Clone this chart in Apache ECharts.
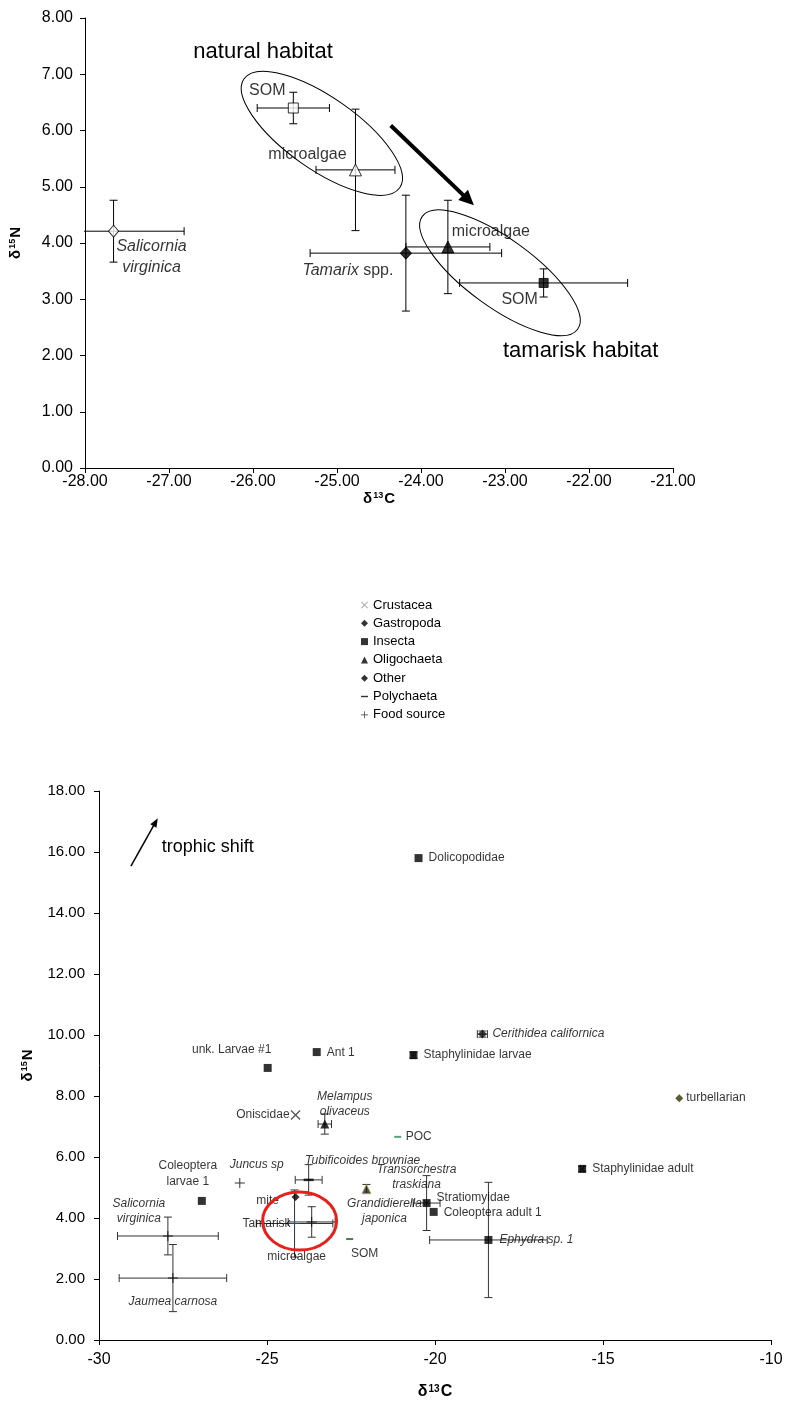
<!DOCTYPE html>
<html><head><meta charset="utf-8">
<script src="https://cdn.jsdelivr.net/npm/echarts@6/dist/echarts.min.js"></script>
<style>html,body{margin:0;padding:0;background:#fff}#c{width:789px;height:1410px}</style>
</head><body><div id="c"></div>
<script>
// ---------------- Top chart data (mean ± SD) ----------------
const topNames = ['Salicornia virginica','SOM','microalgae','Tamarix spp.','microalgae','SOM'];
const topC     = [-27.66, -25.52, -24.78, -24.18, -23.68, -22.54];
const topN     = [4.21, 6.40, 5.30, 3.82, 3.93, 3.29];
const topCerr  = [0.84, 0.43, 0.47, 1.14, 0.50, 1.00];
const topNerr  = [0.55, 0.28, 1.08, 1.03, 0.83, 0.25];
const topXRange = [-28, -21, 1];
const topYRange = [0, 8, 1];

// ---------------- Bottom chart data (mean ± SD) ----------------
const groups = ['Crustacea','Gastropoda','Insecta','Oligochaeta','Other','Polychaeta','Food source'];
const botNames = ['Oniscidae','Transorchestra traskiana','Cerithidea californica','Dolicopodidae','Staphylinidae larvae','Ant 1','unk. Larvae #1','Staphylinidae adult','Stratiomyidae','Coleoptera adult 1','Ephydra sp. 1','Coleoptera larvae 1','Melampus olivaceus','Grandidierella japonica','turbellarian','mite','POC','SOM','Tubificoides browniae','Juncus sp','Salicornia virginica','Jaumea carnosa','Tamarisk','microalgae'];
const botGroup = ['Crustacea','Crustacea','Gastropoda','Insecta','Insecta','Insecta','Insecta','Insecta','Insecta','Insecta','Insecta','Insecta','Oligochaeta','Oligochaeta','Other','Other','Polychaeta','Polychaeta','Polychaeta','Food source','Food source','Food source','Food source','Food source'];
const botC    = [-24.15, -20.25, -18.59, -20.49, -20.64, -23.52, -24.98, -15.62, -20.25, -20.04, -18.41, -26.94, -23.28, -22.04, -12.73, -24.15, -21.11, -22.54, -23.76, -25.81, -27.95, -27.80, -24.18, -23.67];
const botN    = [7.38, 4.49, 10.03, 15.80, 9.34, 9.44, 8.92, 5.61, 4.49, 4.20, 3.28, 4.56, 7.08, 4.95, 7.93, 4.69, 6.66, 3.31, 5.25, 5.15, 3.41, 2.03, 3.82, 3.87];
const botCerr = [0, 0.40, 0.15, 0, 0.05, 0, 0, 0.05, 0, 0, 1.75, 0, 0.20, 0, 0, 0, 0, 0, 0.40, 0, 1.50, 1.60, 1.14, 0.70];
const botNerr = [0, 0.90, 0.10, 0, 0.10, 0, 0, 0.08, 0, 0, 1.89, 0, 0.33, 0.15, 0, 0, 0, 0, 0.50, 0, 0.62, 1.10, 1.10, 0.50];
const botXRange = [-30, -10, 5];
const botYRange = [0, 18, 2];

// ---------------- annotation anchors (data coordinates) ----------------
const naturalEllipse  = [-25.18, 5.95];
const tamariskEllipse = [-23.06, 3.47];
const shiftArrow      = [[-24.36, 6.09], [-23.37, 4.67]];
const naturalText     = [-25.88, 7.39];
const tamariskText    = [-22.10, 2.08];
const trophicArrow    = [[-29.05, 15.54], [-28.25, 17.11]];
const trophicText     = [-28.13, 16.16];
const redEllipse      = [-24.03, 3.90];

// ---------------- styling ----------------
const FONT = "'Liberation Sans', Arial, sans-serif";
const italicSet = new Set(['Transorchestra traskiana','Cerithidea californica','Ephydra sp. 1','Melampus olivaceus','Grandidierella japonica','Tubificoides browniae','Juncus sp','Salicornia virginica','Jaumea carnosa']);
const breakText = {
  'Salicornia virginica':'Salicornia\nvirginica','Melampus olivaceus':'Melampus\nolivaceus',
  'Transorchestra traskiana':'Transorchestra\ntraskiana','Grandidierella japonica':'Grandidierella\njaponica',
  'Coleoptera larvae 1':'Coleoptera\nlarvae 1'
};
// label layout [dx, dy, align]
const topLab = [[38,26,'center'],[-26,-17,'center'],[-48,-15,'center'],[-58,17,'center'],[43,-15,'center'],[-24,17,'center']];
const botLab = {
  'Oniscidae':[-6,0,'right'],'Transorchestra traskiana':[-10,-26,'center'],'Cerithidea californica':[10,0,'left'],
  'Dolicopodidae':[10,0,'left'],'Staphylinidae larvae':[10,0,'left'],'Ant 1':[10,1,'left'],
  'unk. Larvae #1':[-36,-18,'center'],'Staphylinidae adult':[10,0,'left'],'Stratiomyidae':[10,-5,'left'],
  'Coleoptera adult 1':[10,1,'left'],'Ephydra sp. 1':[11,0,'left'],'Coleoptera larvae 1':[-14,-27,'center'],
  'Melampus olivaceus':[20,-20,'center'],'Grandidierella japonica':[18,22,'center'],'turbellarian':[7,0,'left'],
  'mite':[-28,4,'center'],'POC':[8,0,'left'],'SOM':[15,15,'center'],'Tubificoides browniae':[54,-19,'center'],
  'Juncus sp':[17,-18,'center'],'Salicornia virginica':[-29,-25,'center'],'Jaumea carnosa':[0,24,'center'],
  'Tamarisk':[-28,0,'center'],'microalgae':[-15,35,'center']
};
const X_PATH = 'path://M1,0L5,4L9,0L10,1L6,5L10,9L9,10L5,6L1,10L0,9L4,5L0,1Z';
const PLUS_PATH = 'path://M4.5,0L5.5,0L5.5,4.5L10,4.5L10,5.5L5.5,5.5L5.5,10L4.5,10L4.5,5.5L0,5.5L0,4.5L4.5,4.5Z';
const DASH_PATH = 'path://M0,0L10,0L10,2L0,2Z';
const groupStyle = {
  'Crustacea':  {symbol:X_PATH, size:10, color:'#333', legendColor:'#999'},
  'Gastropoda': {symbol:'diamond', size:9, color:'#111', legendColor:'#000'},
  'Insecta':    {symbol:'rect', size:8, color:'#000', legendColor:'#000'},
  'Oligochaeta':{symbol:'triangle', size:9, color:'#000', legendColor:'#000'},
  'Other':      {symbol:'diamond', size:8, color:'#000', legendColor:'#000'},
  'Polychaeta': {symbol:DASH_PATH, size:[7,2], color:'#000', legendColor:'#000'},
  'Food source':{symbol:PLUS_PATH, size:10, color:'#000', legendColor:'#000'}
};
const itemColor = {'POC':'#2e8b57','SOM':'#1e5c1e','turbellarian':'#333300','Tamarisk':'#2a4d8f','Grandidierella japonica':'#222'};
const topSym = [
  {symbol:'diamond', size:[10,12], fill:'#fff'},
  {symbol:'rect', size:10, fill:'#fff'},
  {symbol:'triangle', size:12, fill:'#fff'},
  {symbol:'diamond', size:[11,12], fill:'#000'},
  {symbol:'triangle', size:12, fill:'#000'},
  {symbol:'rect', size:9, fill:'#000'}
];

function errRender(cap, color, lw){
  return function(params, api){
    const c = api.value(0), n = api.value(1), ec = api.value(2), en = api.value(3);
    const st = {stroke: color, lineWidth: lw};
    const ch = [];
    if (ec > 0){
      const a = api.coord([c-ec, n]), b = api.coord([c+ec, n]);
      ch.push({type:'line', shape:{x1:a[0],y1:a[1],x2:b[0],y2:b[1]}, style:st});
      ch.push({type:'line', shape:{x1:a[0],y1:a[1]-cap,x2:a[0],y2:a[1]+cap}, style:st});
      ch.push({type:'line', shape:{x1:b[0],y1:b[1]-cap,x2:b[0],y2:b[1]+cap}, style:st});
    }
    if (en > 0){
      const a = api.coord([c, n-en]), b = api.coord([c, n+en]);
      ch.push({type:'line', shape:{x1:a[0],y1:a[1],x2:b[0],y2:b[1]}, style:st});
      ch.push({type:'line', shape:{x1:a[0]-cap,y1:a[1],x2:a[0]+cap,y2:a[1]}, style:st});
      ch.push({type:'line', shape:{x1:b[0]-cap,y1:b[1],x2:b[0]+cap,y2:b[1]}, style:st});
    }
    return {type:'group', children:ch};
  };
}
function labelText(name){
  const t = breakText[name] || name;
  if (name === 'Tamarix spp.') return '{i|Tamarix} spp.';
  if (italicSet.has(name)) return t.split('\n').map(s=>'{i|'+s+'}').join('\n');
  return t;
}

const axisCommon = {
  type:'value', splitLine:{show:false},
  axisLine:{onZero:false, lineStyle:{color:'#000', width:1}},
  axisTick:{inside:false, length:5, lineStyle:{color:'#000'}},
};
const supRich = (fs)=>({d:{fontSize:fs, fontWeight:'bold', fontFamily:FONT, color:'#000'}, s:{fontSize:Math.round(fs*0.62), fontWeight:'bold', fontFamily:FONT, color:'#000', verticalAlign:'top', padding:[0,1,0,1]}});

// top scatter data
const topScatter = topNames.map((nm,i)=>({
  name:nm, value:[topC[i], topN[i]], symbol:topSym[i].symbol, symbolSize:topSym[i].size,
  itemStyle:{color:topSym[i].fill, borderColor:'#000', borderWidth:1},
  label:{show:true, position:'inside', offset:[topLab[i][0], topLab[i][1]], align:topLab[i][2], verticalAlign:'middle',
    formatter:labelText(nm), color:'#000', fontSize:16, lineHeight:21, fontFamily:FONT,
    rich:{i:{fontStyle:'italic', fontSize:16, lineHeight:21, fontFamily:FONT, color:'#000'}}}
}));

const series = [
  {type:'custom', xAxisIndex:0, yAxisIndex:0, renderItem:errRender(4,'#000',1), clip:true, z:2, silent:true,
   encode:{x:0,y:1}, data: topC.map((c,i)=>[c, topN[i], topCerr[i], topNerr[i]])},
  {type:'scatter', name:'top', xAxisIndex:0, yAxisIndex:0, z:4, silent:true, data:topScatter},
  {type:'custom', xAxisIndex:1, yAxisIndex:1, renderItem:errRender(4,'#333',1), clip:true, z:2, silent:true,
   encode:{x:0,y:1}, data: botC.map((c,i)=>[c, botN[i], botCerr[i], botNerr[i]])}
];
groups.forEach((g)=>{
  const gs = groupStyle[g];
  const data = [];
  botNames.forEach((nm,i)=>{
    if (botGroup[i] !== g) return;
    const L = botLab[nm];
    const col = itemColor[nm] || gs.color;
    const it = {name:nm, value:[botC[i], botN[i]],
      itemStyle:{color:col},
      label:{show:true, position:'inside', offset:[L[0], L[1]], align:L[2], verticalAlign:'middle',
        formatter:labelText(nm), color:'#000', fontSize:12, lineHeight:15.5, fontFamily:FONT,
        rich:{i:{fontStyle:'italic', fontSize:12, lineHeight:15.5, fontFamily:FONT, color:'#000'}}}};
    if (nm === 'Grandidierella japonica') it.itemStyle = {color:'#222', borderColor:'#b8b850', borderWidth:1};
    if (nm === 'Transorchestra traskiana') it.symbolSize = 6;
    if (nm === 'Tubificoides browniae') it.symbolSize = [10,2.5];
    data.push(it);
  });
  series.push({type:'scatter', name:g, xAxisIndex:1, yAxisIndex:1, symbol:gs.symbol, symbolSize:gs.size,
    z: g==='Crustacea'?3:4, silent:true, data});
});

const option = {
  animation:false,
  backgroundColor:'#fff',
  textStyle:{fontFamily:FONT},
  grid:[
    {left:83, top:18, width:590, height:450},
    {left:99, top:791, width:672, height:549}
  ],
  legend:{
    orient:'vertical', left:356, top:593, itemWidth:7, itemHeight:7, itemGap:4.3,
    selectedMode:false,
    textStyle:{fontSize:13, color:'#000', fontFamily:FONT, lineHeight:14},
    data: groups.map(g=>{
      const gs = groupStyle[g];
      let icon = gs.symbol;
      if (icon === 'triangle') icon = 'path://M5,1L9,9L1,9Z';
      if (g === 'Gastropoda' || g === 'Other') icon = 'path://M5,2L8,5L5,8L2,5Z';
      if (g === 'Insecta') icon = 'path://M2,2L8,2L8,8L2,8Z';
      return {name:g, icon, itemStyle:{color:gs.legendColor, borderWidth:0}};
    })
  },
  xAxis:[
    Object.assign({}, axisCommon, {gridIndex:0, min:topXRange[0], max:topXRange[1], interval:topXRange[2],
      axisLabel:{formatter:v=>v.toFixed(2), fontSize:16, color:'#000', margin:6, fontFamily:FONT},
      name:'{d|δ}{s|13}{d|C}', nameLocation:'middle', nameGap:18,
      nameTextStyle:{rich:supRich(15)}}),
    Object.assign({}, axisCommon, {gridIndex:1, min:botXRange[0], max:botXRange[1], interval:botXRange[2],
      axisLabel:{formatter:v=>String(v), fontSize:16, color:'#000', margin:12, fontFamily:FONT},
      name:'{d|δ}{s|13}{d|C}', nameLocation:'middle', nameGap:44,
      nameTextStyle:{rich:supRich(16)}})
  ],
  yAxis:[
    Object.assign({}, axisCommon, {gridIndex:0, min:topYRange[0], max:topYRange[1], interval:topYRange[2],
      axisLabel:{formatter:v=>v.toFixed(2), fontSize:16, color:'#000', margin:12, fontFamily:FONT},
      name:'{d|δ}{s|15}{d|N}', nameLocation:'middle', nameGap:62,
      nameTextStyle:{rich:supRich(15)}}),
    Object.assign({}, axisCommon, {gridIndex:1, min:botYRange[0], max:botYRange[1], interval:botYRange[2],
      axisLabel:{formatter:v=>v.toFixed(2), fontSize:15, color:'#000', margin:14, fontFamily:FONT},
      name:'{d|δ}{s|15}{d|N}', nameLocation:'middle', nameGap:64,
      nameTextStyle:{rich:supRich(15)}})
  ],
  series
};

const chart = echarts.init(document.getElementById('c'), null, {renderer:'canvas'});
chart.setOption(option);

function px(gi, pt){ return chart.convertToPixel({gridIndex:gi}, pt); }
function arrow(p0, p1, lw, hl, hw){
  const dx = p1[0]-p0[0], dy = p1[1]-p0[1], L = Math.hypot(dx,dy), ux = dx/L, uy = dy/L;
  const bx = p1[0]-ux*hl, by = p1[1]-uy*hl;
  return [
    {type:'line', shape:{x1:p0[0],y1:p0[1],x2:bx+ux*1,y2:by+uy*1}, style:{stroke:'#000', lineWidth:lw}, silent:true},
    {type:'polygon', shape:{points:[[p1[0],p1[1]],[bx-uy*hw,by+ux*hw],[bx+uy*hw,by-ux*hw]]}, style:{fill:'#000'}, silent:true}
  ];
}
const ne = px(0, naturalEllipse), te = px(0, tamariskEllipse), re = px(1, redEllipse);
const nt = px(0, naturalText), tt = px(0, tamariskText), trt = px(1, trophicText);
const graphics = [
  {type:'ellipse', x:ne[0], y:ne[1], rotation:-35*Math.PI/180, shape:{cx:0, cy:0, rx:95, ry:36}, style:{fill:'none', stroke:'#000', lineWidth:1}, silent:true},
  {type:'ellipse', x:te[0], y:te[1], rotation:-36*Math.PI/180, shape:{cx:0, cy:0, rx:96, ry:34}, style:{fill:'none', stroke:'#000', lineWidth:1}, silent:true},
  {type:'ellipse', x:re[0], y:re[1], shape:{cx:0, cy:0, rx:37, ry:29}, style:{fill:'none', stroke:'#e8201c', lineWidth:3}, silent:true},
  {type:'text', x:nt[0], y:nt[1], style:{text:'natural habitat', fontSize:22, fontFamily:FONT, fill:'#000', textAlign:'center', textVerticalAlign:'middle'}, silent:true},
  {type:'text', x:tt[0], y:tt[1], style:{text:'tamarisk habitat', fontSize:22, fontFamily:FONT, fill:'#000', textAlign:'center', textVerticalAlign:'middle'}, silent:true},
  {type:'text', x:trt[0], y:trt[1], style:{text:'trophic shift', fontSize:18, fontFamily:FONT, fill:'#000', textAlign:'left', textVerticalAlign:'middle'}, silent:true}
].concat(arrow(px(0, shiftArrow[0]), px(0, shiftArrow[1]), 4, 15, 7))
 .concat(arrow(px(1, trophicArrow[0]), px(1, trophicArrow[1]), 1.5, 9, 3.5));
chart.setOption({graphic: graphics.map(g=>Object.assign({z:10}, g))});
</script>
</body></html>
